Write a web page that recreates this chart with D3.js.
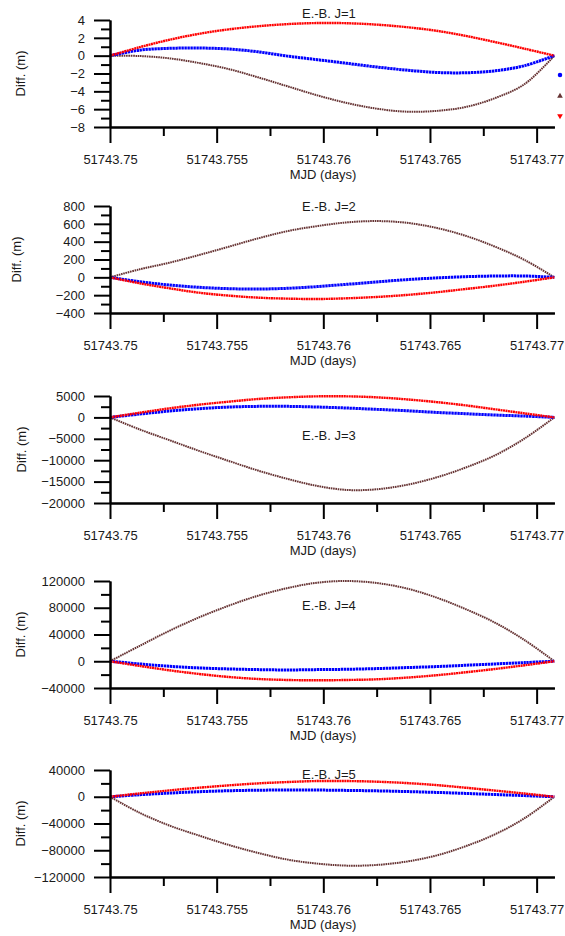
<!DOCTYPE html>
<html>
<head>
<meta charset="utf-8">
<script src="https://cdn.jsdelivr.net/npm/d3@7"></script>
<style>
body { margin: 0; background: #fff; }
svg text { font-family: "Liberation Sans", Arial, sans-serif; font-size: 13px; fill: #1a1a1a; }
.axis path, .axis line { stroke: #000; stroke-width: 2; }
</style>
</head>
<body>
<div id="chart"></div>
<script>
// sample times (MJD, every 2 minutes)
const mjd = [51743.75, 51743.75139, 51743.75278, 51743.75417, 51743.75556, 51743.75694,
  51743.75833, 51743.75972, 51743.76111, 51743.7625, 51743.76389, 51743.76528,
  51743.76667, 51743.76806, 51743.76944, 51743.77083]
const xTicks = [51743.75, 51743.755, 51743.76, 51743.765, 51743.77]
const xMinor = [51743.7525, 51743.7575, 51743.7625, 51743.7675]

const titles = ["E.-B. J=1", "E.-B. J=2", "E.-B. J=3", "E.-B. J=4", "E.-B. J=5"]

const j1Blue  = [0, 0.62, 0.82, 0.86, 0.75, 0.43, -0.05, -0.45, -0.86, -1.27, -1.62, -1.88, -1.92, -1.7, -1.12, 0]
const j1Brown = [0, -0.04, -0.3, -0.82, -1.5, -2.43, -3.44, -4.45, -5.31, -5.94, -6.28, -6.2, -5.76, -4.75, -3.18, 0]
const j1Red   = [0, 0.95, 1.78, 2.45, 2.95, 3.3, 3.54, 3.66, 3.64, 3.48, 3.2, 2.8, 2.22, 1.52, 0.78, 0]

const j2Blue  = [0, -49, -86, -112, -127, -131, -123, -104, -78, -52, -26, -7, 7, 15, 15, 0]
const j2Brown = [0, 90, 164, 250, 343, 437, 519, 575, 616, 631, 612, 556, 466, 343, 194, 0]
const j2Red   = [0, -67, -123, -172, -205, -228, -239, -243, -235, -220, -198, -168, -131, -93, -49, 0]

const j3Blue  = [0, 780, 1480, 2030, 2420, 2580, 2580, 2420, 2190, 1880, 1560, 1170, 860, 550, 310, 0]
const j3Brown = [0, -2810, -5310, -7810, -10160, -12420, -14380, -16020, -16950, -16800, -15780, -14060, -11720, -8830, -4920, 0]
const j3Red   = [0, 1090, 2110, 2970, 3670, 4300, 4690, 4920, 4920, 4690, 4220, 3590, 2810, 1880, 940, 0]

const j4Blue  = [0, -4000, -7500, -10000, -11500, -12500, -13000, -12500, -12000, -11000, -9500, -8000, -6000, -4000, -2000, 0]
const j4Brown = [0, 23000, 45500, 65500, 83000, 98000, 109500, 117500, 120000, 117000, 109000, 95500, 78000, 57500, 31500, 0]
const j4Red   = [0, -7000, -13500, -19000, -23500, -26500, -28000, -28500, -28000, -27000, -24500, -21000, -16500, -11500, -6000, 0]

const j5Blue  = [0, 3000, 5500, 7500, 9000, 9800, 10000, 10000, 9500, 8800, 7800, 6500, 5000, 3300, 1700, 0]
const j5Brown = [0, -24000, -43000, -58000, -72000, -84000, -94000, -100000, -103000, -102000, -97000, -88000, -74000, -56000, -32000, 0]
const j5Red   = [0, 5000, 9500, 13500, 17000, 20000, 22000, 23500, 23500, 22500, 20500, 17500, 13500, 9200, 4800, 0]

const yMajor = [[4, 2, 0, -2, -4, -6, -8],
  [800, 600, 400, 200, 0, -200, -400],
  [5000, 0, -5000, -10000, -15000, -20000],
  [120000, 80000, 40000, 0, -40000],
  [40000, 0, -40000, -80000, -120000]]
const yMinor = [[3, 1, -1, -3, -5, -7],
  [700, 500, 300, 100, -100, -300],
  [2500, -2500, -7500, -12500, -17500],
  [100000, 60000, 20000, -20000],
  [20000, -20000, -60000, -100000]]

const blueC = "#0000ff", brownC = "#663333", redC = "#ff0000"

// layout of each panel
const panels = [
  {bottom: 127, title: 17.5, labelX: 20, series: [j1Brown, j1Blue, j1Red]},
  {bottom: 313, title: 210.5, labelX: 16, series: [j2Brown, j2Blue, j2Red]},
  {bottom: 503, title: 440, labelX: 21, series: [j3Brown, j3Blue, j3Red]},
  {bottom: 688, title: 609.5, labelX: 20, series: [j4Brown, j4Blue, j4Red]},
  {bottom: 877, title: 779, labelX: 20, series: [j5Brown, j5Blue, j5Red]}
]
const plotH = 107

var width = 565, height = 936
var svg = d3.select("#chart").append("svg")
  .attr("width", width).attr("height", height)
  .style("background", "#fff")

var x = d3.scaleLinear()
  .domain([51743.75, 51743.7708333])
  .range([110, 554.4])

const styles = [
  {color: brownC, w: 2, dash: "1.6 0.7"},
  {color: blueC, w: 3, dash: "2.4 0.6"},
  {color: redC, w: 2.4, dash: "2 0.5"}
]

panels.forEach((p, i) => {
  var maj = yMajor[i]
  var y = d3.scaleLinear()
    .domain([d3.min(maj), d3.max(maj)])
    .range([p.bottom, p.bottom - plotH])

  var g = svg.append("g")

  // data curves
  var line = d3.line()
    .x((d, k) => x(mjd[k]))
    .y(d => y(d))
    .curve(d3.curveCatmullRom.alpha(0.5))

  p.series.forEach((s, k) => {
    g.append("path")
      .attr("d", line(s))
      .attr("fill", "none")
      .attr("stroke", styles[k].color)
      .attr("stroke-width", styles[k].w)
      .attr("stroke-dasharray", styles[k].dash)
  })

  // y axis
  g.append("g").attr("class", "axis")
    .attr("transform", `translate(${x(51743.75)},0)`)
    .call(d3.axisLeft(y).tickValues(yMinor[i]).tickSize(9).tickSizeOuter(0).tickFormat(""))
  g.append("g").attr("class", "axis")
    .attr("transform", `translate(${x(51743.75)},0)`)
    .call(d3.axisLeft(y).tickValues(maj).tickSize(16).tickSizeOuter(0).tickPadding(9).tickFormat(d3.format("d")))
    .call(a => a.selectAll("text").attr("font-size", null))

  // x axis
  g.append("g").attr("class", "axis")
    .attr("transform", `translate(0,${p.bottom})`)
    .call(d3.axisBottom(x).tickValues(xMinor).tickSize(9).tickSizeOuter(0).tickFormat(""))
  g.append("g").attr("class", "axis")
    .attr("transform", `translate(0,${p.bottom})`)
    .call(d3.axisBottom(x).tickValues(xTicks).tickSize(16).tickSizeOuter(0).tickFormat(d => String(+d.toFixed(3))))
    .call(a => a.selectAll("text").attr("y", 28).attr("font-size", null))
  g.selectAll(".axis text").attr("font-family", null)

  g.append("text")
    .attr("x", 323).attr("y", p.bottom + 52)
    .attr("text-anchor", "middle")
    .text("MJD (days)")

  g.append("text")
    .attr("transform", `translate(${p.labelX},${p.bottom - plotH / 2}) rotate(-90)`)
    .attr("text-anchor", "middle")
    .attr("dy", "0.35em")
    .text("Diff. (m)")

  g.append("text")
    .attr("x", 302).attr("y", p.title)
    .text(titles[i])
})

// legend markers (first panel only)
var leg = svg.append("g").attr("transform", "translate(560,0)")
leg.append("path").attr("d", d3.symbol(d3.symbolCircle, 16)())
  .attr("transform", "translate(0,75)").attr("fill", blueC)
leg.append("path").attr("d", d3.symbol(d3.symbolTriangle, 14)())
  .attr("transform", "translate(0,96)").attr("fill", brownC)
leg.append("path").attr("d", d3.symbol(d3.symbolTriangle, 14)())
  .attr("transform", "translate(0,116) rotate(180)").attr("fill", redC)
</script>
</body>
</html>
